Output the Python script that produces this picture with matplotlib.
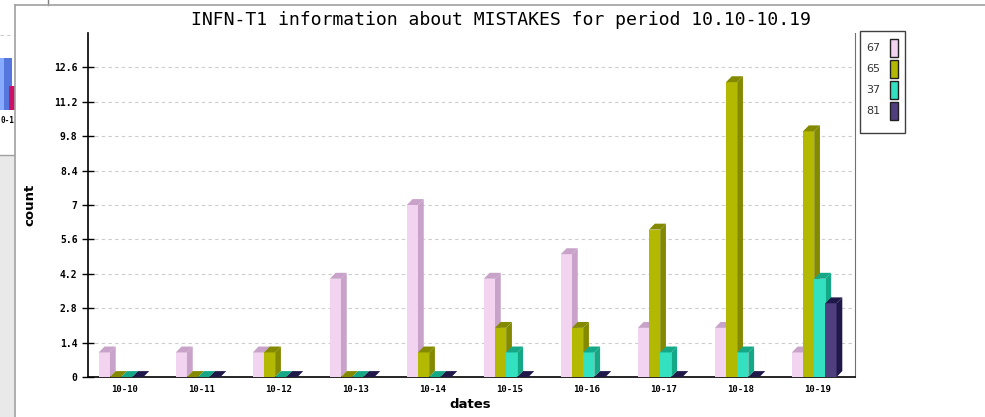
import matplotlib.pyplot as plt
from matplotlib.patches import Polygon, Rectangle

# daily error counts per site id
dates = ["10-10", "10-11", "10-12", "10-13", "10-14",
         "10-15", "10-16", "10-17", "10-18", "10-19"]
series_names = ["67", "65", "37", "81"]
s67 = [1, 1, 1, 4, 7, 4, 5, 2, 2, 1]
s65 = [0, 0, 1, 0, 1, 2, 2, 6, 12, 10]
s37 = [0, 0, 0, 0, 0, 1, 1, 1, 1, 4]
s81 = [0, 0, 0, 0, 0, 0, 0, 0, 0, 3]
y_ticks = [0, 1.4, 2.8, 4.2, 5.6, 7, 8.4, 9.8, 11.2, 12.6]

front_colors = ["#f2d4f0", "#b3b800", "#33e0c0", "#4f3f7f"]
side_colors = ["#c8a2c8", "#838a00", "#14a887", "#21184a"]

W, H = 985, 417


def bar3d(ax, x0, h, w, dx, dy, front, side):
    # front face, then top and right side for the fake depth
    ax.add_patch(Rectangle((x0, 0), w, h, facecolor=front, edgecolor="none", zorder=3))
    ax.add_patch(Polygon([(x0, h), (x0 + w, h), (x0 + w + dx, h + dy), (x0 + dx, h + dy)],
                         closed=True, facecolor=side, edgecolor="none", zorder=3))
    ax.add_patch(Polygon([(x0 + w, 0), (x0 + w + dx, dy), (x0 + w + dx, h + dy), (x0 + w, h)],
                         closed=True, facecolor=side, edgecolor="none", zorder=3))


fig = plt.figure(figsize=(W / 100, H / 100), dpi=100)
fig.patch.set_facecolor("white")

# background layer in pixel units: window frame and the clipped neighbour panel
bg = fig.add_axes([0, 0, 1, 1], zorder=-5)
bg.set_xlim(0, W)
bg.set_ylim(H, 0)
bg.axis("off")
bg.add_patch(Rectangle((0, 155), 14, H - 155, facecolor="#e9e9e9", edgecolor="none"))
bg.plot([0, 14], [155, 155], color="#a0a0a0", lw=1)
bg.plot([0, 14], [35, 35], color="#cccccc", lw=0.8, ls=(0, (3, 3)))
bg.add_patch(Rectangle((0, 58), 12, 52, facecolor="#5577dd", edgecolor="none"))
bg.add_patch(Rectangle((0, 58), 4, 52, facecolor="#88aaff", edgecolor="none"))
bg.add_patch(Rectangle((9, 86), 6, 24, facecolor="#cc1166", edgecolor="none"))
bg.text(0.5, 120, "0-1", fontsize=5.5, family="DejaVu Sans Mono", fontweight="bold",
        va="center", ha="left")
bg.plot([48, 48], [0, 5], color="#808080", lw=1)
bg.plot([15, W], [5, 5], color="#a0a0a0", lw=1.2)
bg.plot([15, 15], [5, H], color="#a0a0a0", lw=1.2)

# legend box
bg.add_patch(Rectangle((860, 31), 45, 102, facecolor="white", edgecolor="#404040", lw=1))
for k, name in enumerate(series_names):
    yc = 48 + k * 21
    bg.text(866, yc, name, fontsize=8, color="#333333", va="center", ha="left")
    bg.add_patch(Rectangle((890, yc - 9), 8, 18, facecolor=front_colors[k],
                           edgecolor="#202020", lw=1))

ax = fig.add_axes([88 / W, 40 / H, (855 - 88) / W, (377 - 33) / H])
ax.set_xlim(-0.48, 9.48)
ax.set_ylim(0, 14)

w = 0.145
dx = 0.075
dy = 0.24
for j, vals in enumerate([s67, s65, s37, s81]):
    for i, v in enumerate(vals):
        bar3d(ax, i - 0.34 + j * w, v, w, dx, dy, front_colors[j], side_colors[j])

for t in y_ticks[1:]:
    ax.axhline(t, color="#cccccc", lw=0.8, ls=(0, (3, 3)), zorder=1)

ax.set_yticks(y_ticks)
ax.set_yticklabels([f"{t:g}" for t in y_ticks], family="DejaVu Sans Mono",
                   fontweight="bold", fontsize=7)
ax.set_xticks(range(len(dates)))
ax.set_xticklabels(dates, family="DejaVu Sans Mono", fontweight="bold", fontsize=6.5)
ax.tick_params(axis="y", direction="inout", length=9, width=1, pad=3)
ax.tick_params(axis="x", length=0, pad=6)

ax.spines["top"].set_visible(False)
ax.spines["left"].set_linewidth(1.2)
ax.spines["bottom"].set_linewidth(1.2)
ax.spines["right"].set_color("#707070")

fig.text(501 / W, 1 - 20 / H, "INFN-T1 information about MISTAKES for period 10.10-10.19",
         ha="center", va="center", family="DejaVu Sans Mono", fontsize=13.1)
fig.text(470 / W, 1 - 405 / H, "dates", ha="center", va="center",
         fontweight="bold", fontsize=9.5)
fig.text(30 / W, 1 - 205 / H, "count", ha="center", va="center", rotation=90,
         fontweight="bold", fontsize=9.5)

fig.savefig("out.png", dpi=100)
